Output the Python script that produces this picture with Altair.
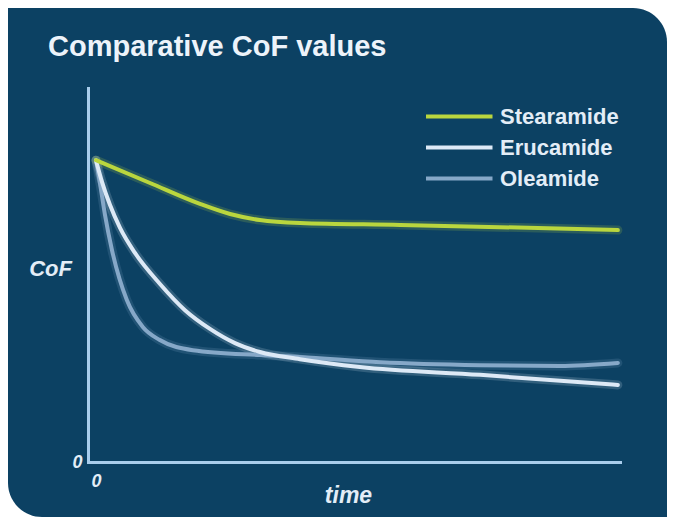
import altair as alt
import pandas as pd

# ---- data (time in % of axis, CoF as fraction of axis height)
legend_order = ["Stearamide", "Erucamide", "Oleamide"]
line_colors = ["#bad63e", "#dde9f6", "#86a8c8"]

stearamide_t = [1.5, 11.65, 21.05, 26.7, 32.3, 39.85, 58.65, 77.4, 99.6]
stearamide_v = [0.807, 0.746, 0.690, 0.663, 0.647, 0.639, 0.634, 0.628, 0.620]

erucamide_t = [1.5, 2.63, 4.14, 6.02, 8.83, 13.53, 18.23, 22.93, 27.63, 32.33, 39.85, 51.1, 73.7, 99.6]
erucamide_v = [0.807, 0.749, 0.687, 0.626, 0.559, 0.476, 0.406, 0.356, 0.318, 0.294, 0.275, 0.254, 0.233, 0.206]

oleamide_t = [1.5, 2.3, 3.2, 4.5, 7.3, 10.3, 13.5, 19.7, 32.3, 39.8, 54.9, 73.7, 88.7, 99.6]
oleamide_v = [0.807, 0.741, 0.660, 0.567, 0.433, 0.361, 0.326, 0.299, 0.286, 0.281, 0.267, 0.259, 0.257, 0.265]

x_ticks = [0]
y_ticks = [0]

rows = []
for name, ts, vs in [("Oleamide", oleamide_t, oleamide_v),
                     ("Erucamide", erucamide_t, erucamide_v),
                     ("Stearamide", stearamide_t, stearamide_v)]:
    for i, (t, v) in enumerate(zip(ts, vs)):
        rows.append({"series": name, "time": t, "cof": v, "idx": i})
df = pd.DataFrame(rows)

BG = "#0c4163"
TXT = "#e3edf7"
AXIS = "#a9cdec"
FONT = "Liberation Sans"

W, H = 532, 374
PAD = {"left": 80, "top": 80, "right": 47, "bottom": 55}

panel = alt.Chart(pd.DataFrame({"a": [0]})).mark_rect(
    color=BG,
    cornerRadiusTopRight=34,
    cornerRadiusBottomLeft=34,
).encode(
    x=alt.value(-PAD["left"]),
    x2=alt.value(W + PAD["right"]),
    y=alt.value(-PAD["top"]),
    y2=alt.value(H + PAD["bottom"]),
)

color_scale = alt.Scale(domain=legend_order, range=line_colors)

x_axis = alt.Axis(
    values=x_ticks, title="time", grid=False, ticks=False, tickSize=0,
    domainColor=AXIS, domainWidth=3, domainCap="square",
    labelColor=TXT, labelFont=FONT, labelFontSize=18,
    labelFontStyle="italic", labelFontWeight="bold",
    labelPadding=10, labelOffset=3,
    titleColor=TXT, titleFont=FONT, titleFontSize=23,
    titleFontStyle="italic", titleFontWeight="bold",
    titleX=260, titleY=40, titleAlign="center", titleBaseline="alphabetic",
    zindex=1,
)
y_axis = alt.Axis(
    values=y_ticks, title="CoF", grid=False, ticks=False, tickSize=0,
    domainColor=AXIS, domainWidth=3, domainCap="square",
    labelColor=TXT, labelFont=FONT, labelFontSize=18,
    labelFontStyle="italic", labelFontWeight="bold",
    labelPadding=6, labelAlign="right", labelBaseline="middle",
    titleColor=TXT, titleFont=FONT, titleFontSize=22,
    titleFontStyle="italic", titleFontWeight="bold",
    titleAngle=0, titleX=-38, titleY=187, titleAlign="center",
    titleBaseline="alphabetic",
    zindex=1,
)

legend = alt.Legend(
    title=None, orient="none", legendX=338, legendY=13,
    padding=0, symbolType="M-5.45,0H5.45", symbolSize=400,
    symbolStrokeWidth=4, symbolOpacity=1, clipHeight=31, rowPadding=0,
    labelOffset=50, labelColor=TXT, labelFont=FONT,
    labelFontSize=22, labelFontWeight="bold",
)
color_enc = alt.Color("series:N", scale=color_scale, sort=legend_order, legend=legend)

base = alt.Chart(df).encode(
    x=alt.X("time:Q", scale=alt.Scale(domain=[0, 100], nice=False, zero=False), axis=x_axis),
    y=alt.Y("cof:Q", scale=alt.Scale(domain=[0, 1], nice=False), axis=y_axis),
    color=color_enc,
    detail="series:N",
    order="idx:Q",
)

glow = base.mark_line(
    strokeWidth=9, interpolate="monotone", strokeCap="round", opacity=0.18
)

lines = base.mark_line(
    strokeWidth=4, interpolate="monotone", strokeCap="round"
)

chart = alt.layer(panel, glow, lines).properties(
    width=W,
    height=H,
    padding=PAD,
    autosize=alt.AutoSizeParams(type="none"),
    title=alt.TitleParams(
        text="Comparative CoF values", anchor="start", frame="group",
        font=FONT, fontSize=29, fontWeight="bold", color="#edf3fa",
        baseline="alphabetic", offset=0, dx=-40, dy=77,
    ),
).configure(background="white").configure_view(strokeWidth=0)

chart.save("out.html", embed_options={"renderer": "svg", "actions": False})
